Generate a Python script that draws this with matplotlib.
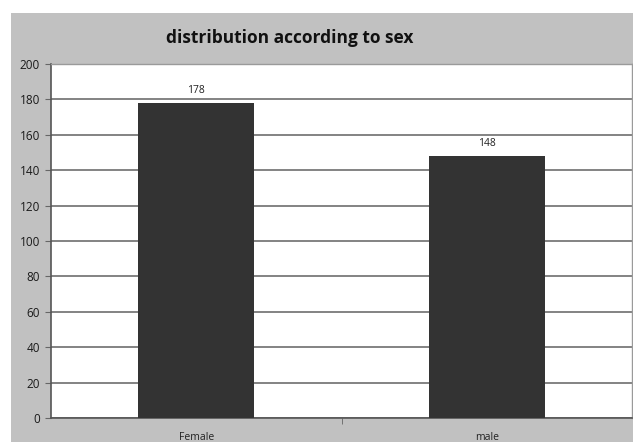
import matplotlib
matplotlib.use("Agg")
import matplotlib.pyplot as plt
from matplotlib.patches import Rectangle

categories = ["Female", "male"]
counts = [178, 148]
y_ticks = [0, 20, 40, 60, 80, 100, 120, 140, 160, 180, 200]
title = "distribution according to sex"

W, H = 633, 442
fig = plt.figure(figsize=(W / 100, H / 100), dpi=100)
fig.patch.set_facecolor("white")

# grey chart area background
fig.patches.append(Rectangle((11 / W, 0), 1 - 11 / W, 1 - 13 / H,
                             transform=fig.transFigure, facecolor="#c1c1c1",
                             edgecolor="none", zorder=-10))

ax = fig.add_axes([51 / W, 1 - 418 / H, (632 - 51) / W, (418 - 64) / H])
ax.set_facecolor("white")

x = list(range(len(categories)))
bars = ax.bar(x, counts, width=0.4, color="#333333", zorder=3)
for xi, v in zip(x, counts):
    ax.text(xi, v + 4, str(v), ha="center", va="bottom", fontsize=7.5,
            family="Open Sans", color="#222222")

ax.set_xlim(-0.5, len(categories) - 0.5)
ax.set_ylim(0, 200)
ax.set_yticks(y_ticks)
ax.set_yticklabels([str(t) for t in y_ticks], fontsize=8.5, family="Open Sans",
                   color="#1a1a1a")
ax.yaxis.grid(True, color="#7a7a7a", linewidth=1.3, zorder=1)
ax.set_axisbelow(True)

ax.set_xticks(x)
ax.set_xticklabels(categories, fontsize=7.5, family="Open Sans", color="#222222")
ax.tick_params(axis="x", length=0, pad=10)
ax.set_xticks([0.5], minor=True)
ax.tick_params(axis="x", which="minor", length=4, color="#666666")
ax.tick_params(axis="y", length=4, color="#666666", pad=4)

for side in ["left", "bottom"]:
    ax.spines[side].set_color("#555555")
    ax.spines[side].set_linewidth(1.2)
for side in ["top", "right"]:
    ax.spines[side].set_color("#9a9a9a")
    ax.spines[side].set_linewidth(1.0)

fig.text(290 / W, 1 - 38 / H, title, ha="center", va="center",
         fontsize=12.5, fontweight="bold", family="Open Sans", color="#111111")

fig.savefig("out.png", dpi=100)
